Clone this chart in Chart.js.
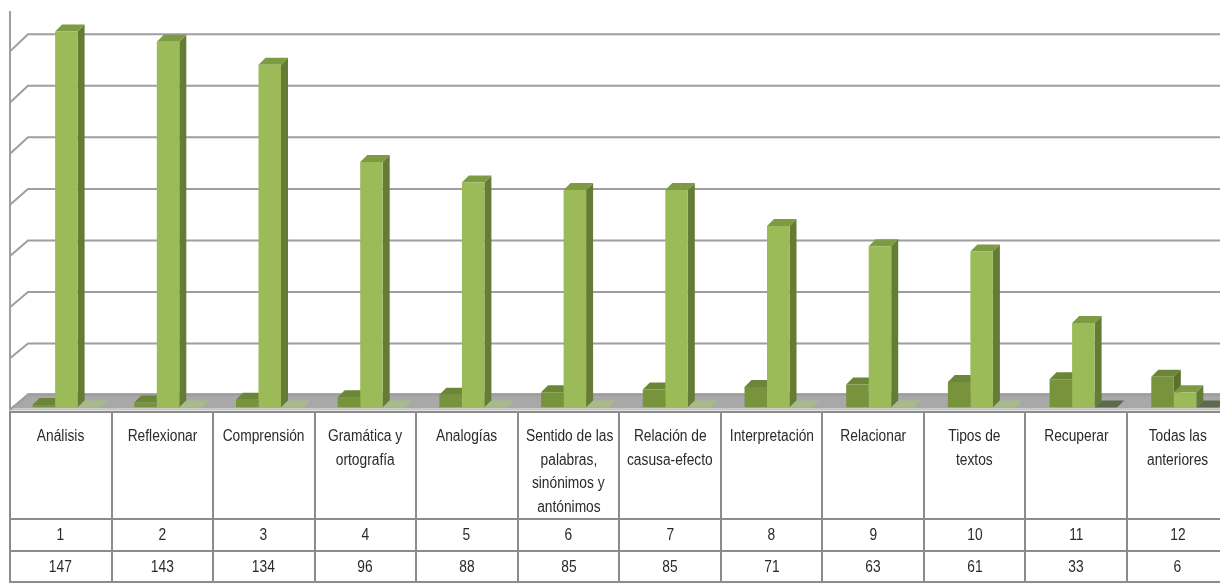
<!DOCTYPE html>
<html>
<head>
<meta charset="utf-8">
<script src="https://cdn.jsdelivr.net/npm/chart.js@4.4.1/dist/chart.umd.min.js"></script>
<style>
  html, body { margin: 0; padding: 0; background: #fff; overflow: hidden; width: 1220px; height: 583px; }
  #wrap { position: relative; width: 1220px; height: 583px; overflow: hidden; }
  #chart { position: absolute; left: 0; top: 0; }
  #tabla { position: absolute; left: 9px; top: 411px; border-collapse: collapse; table-layout: fixed; width: 1220.4px; }
  #tabla td {
    border: 2px solid #8c8c8c; text-align: center; padding: 0; white-space: nowrap; overflow: hidden;
    font-family: "Liberation Sans", Arial, sans-serif;
    font-size: 16px; color: #2a2a2a; line-height: 23.5px;
  }
  #tabla td span { display: inline-block; transform: scaleX(0.86); transform-origin: 50% 50%; }
  #tabla tr.nombres td { height: 107px; vertical-align: top; padding-top: 11px; box-sizing: border-box; }
  #tabla tr.orden td { height: 32px; vertical-align: middle; box-sizing: border-box; }
  #tabla tr.frec td { height: 31px; vertical-align: middle; box-sizing: border-box; }
</style>
</head>
<body>
<div id="wrap">
  <canvas id="chart" width="1240" height="583"></canvas>
  <table id="tabla"><tbody></tbody></table>
</div>
<script>
// datos
const categorias = [
  ['Análisis'], ['Reflexionar'], ['Comprensión'], ['Gramática y', 'ortografía'], ['Analogías'],
  ['Sentido de las', 'palabras,', 'sinónimos y', 'antónimos'], ['Relación de', 'casusa-efecto'],
  ['Interpretación'], ['Relacionar'], ['Tipos de', 'textos'], ['Recuperar'], ['Todas las', 'anteriores']
];
const orden = [1, 2, 3, 4, 5, 6, 7, 8, 9, 10, 11, 12];
const frecuencia = [147, 143, 134, 96, 88, 85, 85, 71, 63, 61, 33, 6];
const serieVacia = [0, 0, 0, 0, 0, 0, 0, 0, 0, 0, 0, 0];
const yTicks = [0, 20, 40, 60, 80, 100, 120, 140];

const colores = [
  { front: '#77933C', side: '#5B702E', top: '#6B8636' },
  { front: '#9BBB59', side: '#657C35', top: '#7D9B43' },
  { front: '#A8BA8A', side: '#A8BA8A', top: '#A8BA8A' }
];
const tileOscuro = '#5E6A4C';

const DEPTH = 7;        // profundidad de las barras
const WALL_LEFT = 10;   // borde izquierdo del suelo
const WALL_DX = 18;     // desplazamiento de la pared del fondo
const RIGHT_EDGE = 1220;

/* -------- tabla de datos -------- */
function renderTabla() {
  const body = document.querySelector('#tabla tbody');
  const filas = [
    { cls: 'nombres', vals: categorias.map(c => c.map(t => `<span>${t}</span>`).join('<br>')) },
    { cls: 'orden', vals: orden.map(v => `<span>${v}</span>`) },
    { cls: 'frec', vals: frecuencia.map(v => `<span>${v}</span>`) }
  ];
  filas.forEach(f => {
    const tr = document.createElement('tr');
    tr.className = f.cls;
    f.vals.forEach(v => { tr.innerHTML += `<td>${v}</td>`; });
    body.appendChild(tr);
  });
}

/* -------- efecto 3D -------- */
const efecto3d = {
  id: 'efecto3d',
  beforeDatasetsDraw(chart) {
    const { ctx } = chart;
    const y = chart.scales.y;
    const pared = chart.scales.pared;
    const y0 = y.getPixelForValue(0);
    const yb0 = pared.getPixelForValue(0);
    ctx.save();

    // suelo
    ctx.fillStyle = '#a8a8a8';
    ctx.beginPath();
    ctx.moveTo(WALL_LEFT, y0 + 1);
    ctx.lineTo(WALL_LEFT + WALL_DX, yb0 - 2);
    ctx.lineTo(RIGHT_EDGE, yb0 - 2);
    ctx.lineTo(RIGHT_EDGE, y0 + 1);
    ctx.closePath();
    ctx.fill();
    ctx.fillStyle = '#c4c4c4';
    ctx.fillRect(WALL_LEFT, y0 + 1, RIGHT_EDGE - WALL_LEFT, 2);

    // lineas de division en la pared
    ctx.strokeStyle = '#9e9e9e';
    ctx.lineWidth = 2;
    yTicks.forEach(v => {
      const pf = y.getPixelForValue(v) + 2;
      const pb = pared.getPixelForValue(v);
      ctx.beginPath();
      ctx.moveTo(WALL_LEFT, pf);
      ctx.lineTo(WALL_LEFT + WALL_DX, pb);
      ctx.lineTo(RIGHT_EDGE, pb);
      ctx.stroke();
    });

    // eje vertical
    ctx.beginPath();
    ctx.moveTo(WALL_LEFT, chart.chartArea.top);
    ctx.lineTo(WALL_LEFT, y0 + 3);
    ctx.stroke();

    // caras laterales y superiores
    const metas = chart.data.datasets.map((d, i) => chart.getDatasetMeta(i));
    for (let j = 0; j < categorias.length; j++) {
      metas.forEach((meta, i) => {
        const bar = meta.data[j];
        const l = bar.x - bar.width / 2;
        const r = bar.x + bar.width / 2;
        const c = colores[i];
        if (bar.base - bar.y > 0.5) {
          ctx.fillStyle = c.side;
          ctx.beginPath();
          ctx.moveTo(r, bar.y);
          ctx.lineTo(r + DEPTH, bar.y - DEPTH);
          ctx.lineTo(r + DEPTH, bar.base - DEPTH);
          ctx.lineTo(r, bar.base);
          ctx.closePath();
          ctx.fill();
        }
        ctx.fillStyle = (i === 2 && j >= 10) ? tileOscuro : c.top;
        ctx.beginPath();
        ctx.moveTo(l, bar.y);
        ctx.lineTo(l + DEPTH, bar.y - DEPTH);
        ctx.lineTo(r + DEPTH, bar.y - DEPTH);
        ctx.lineTo(r, bar.y);
        ctx.closePath();
        ctx.fill();
      });
    }
    ctx.restore();
  }
};

renderTabla();

new Chart(document.getElementById('chart').getContext('2d'), {
  type: 'bar',
  data: {
    labels: categorias,
    datasets: [
      { label: 'Orden', data: orden, backgroundColor: colores[0].front },
      { label: 'Frecuencia', data: frecuencia, backgroundColor: colores[1].front },
      { label: 'Serie 3', data: serieVacia, backgroundColor: colores[2].front }
    ]
  },
  options: {
    responsive: false,
    animation: false,
    layout: { padding: { left: 15.5, right: 4.1, top: 11, bottom: 175.5 } },
    datasets: { bar: { categoryPercentage: 0.664, barPercentage: 1 } },
    scales: {
      x: { display: false },
      y: { display: false, min: 0, max: 155 },
      pared: { display: false, position: 'left', min: -4.85, max: 149.05 }
    },
    plugins: { legend: { display: false }, tooltip: { enabled: false } }
  },
  plugins: [efecto3d]
});
</script>
</body>
</html>
